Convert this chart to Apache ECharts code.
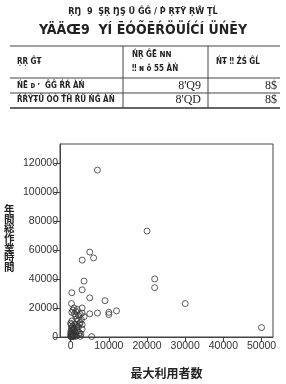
<!DOCTYPE html>
<html><head><meta charset="utf-8">
<script src="https://cdn.jsdelivr.net/npm/echarts@6/dist/echarts.min.js"></script>
<style>html,body{margin:0;padding:0;background:#fff}#c{width:286px;height:384px}</style>
</head><body><div id="c"></div>
<script>
// Data: max users (x) vs annual total work hours (y)
const maxUsers = [7000,20000,5000,3000,6000,22000,22000,3500,3000,300,5000,9000,30000,200,50000,12000,10000,10000,7000,5000,3000,3000,3500,3000,5500,
  900,300,1000,1300,1600,2000,2500,2800,2300,0,100,200,600,1000,2300,2000,1500,500,800,1200,300,100,0,200,400,700,1500,2500,50,600,1000,1800,300,2700,1400,2000,600,100,300,1100,1700,900,1300,200,0,400,2100,3000,2500,1700];
const workHours = [115000,73000,58500,53000,54500,40000,34000,38500,32500,30500,27000,25000,23000,23000,6500,18000,17000,15500,16500,16000,20000,16500,14000,5500,300,
  20000,17000,16000,14500,12500,11500,10000,12000,9000,9500,8500,6000,4500,3500,3000,7000,6500,7500,5500,2500,2000,1000,500,3000,1500,800,1000,500,4000,200,6000,4500,11000,2000,17500,15000,18500,300,4800,9000,8000,1200,400,100,2500,6500,1800,8500,15500,19000];
const xTicks = [0,10000,20000,30000,40000,50000];
const yTicks = [0,20000,40000,60000,80000,100000,120000];
const yAxisTitle = '年間総作業時間';
const xAxisTitle = '最大利用者数';
const titleLine1 = 'ŖŊ  9  ŞŖ ŊŞ Ű ĜĜ / Ṗ ŖŦŸ ŖŴ ŢĹ';
const titleLine2 = 'YÄÄŒ9  YÍ ĒÓÕĒŔÖÜĺĆÍ ÜŃĒY';
const colHeaders = ['ŖŖ ĜŦ', 'ŃŖ ĜĒ ꓠꓠ', '‼ ɴ ô 55 ÀŃ', 'ŃŦ ‼ ŹŚ ĜĹ'];
const rowLabels = ['ŃĒ ᴅ ʳ  ĜĜ ŔŔ ÀŃ', 'ŔŔŶŦŨ ÒÒ ŤĤ ŔŨ ŃĜ ÀŃ'];
const col2Vals = ["8'Q9", "8'QD"];
const col3Vals = ['8$', '8$'];

const pts = maxUsers.map((x, i) => [x, workHours[i]]);
const chart = echarts.init(document.getElementById('c'), null, {renderer: 'canvas'});
const tf = '"Liberation Sans Narrow","DejaVu Sans Condensed","Liberation Sans",sans-serif';
const lineStyle = {stroke: '#444', lineWidth: 1};
const g = [];
g.push({type:'text', left:'center', top:7, style:{text:titleLine1, font:'bold 9px '+tf, fill:'#222'}});
g.push({type:'text', left:'center', top:23, style:{text:titleLine2, font:'bold 14px '+tf, fill:'#222'}});
g.push({type:'line', shape:{x1:10,y1:46,x2:280,y2:46}, style:lineStyle});
g.push({type:'line', shape:{x1:10,y1:78,x2:280,y2:78}, style:lineStyle});
g.push({type:'line', shape:{x1:10,y1:93,x2:280,y2:93}, style:lineStyle});
g.push({type:'line', shape:{x1:10,y1:108,x2:280,y2:108}, style:{stroke:'#333', lineWidth:1.5}});
g.push({type:'line', shape:{x1:123,y1:46,x2:123,y2:108}, style:lineStyle});
g.push({type:'line', shape:{x1:208,y1:46,x2:208,y2:108}, style:lineStyle});
g.push({type:'text', x:17, y:62, style:{text:colHeaders[0], font:'bold 8px '+tf, fill:'#222', textVerticalAlign:'middle'}});
g.push({type:'text', x:132, y:55, style:{text:colHeaders[1], font:'bold 8px '+tf, fill:'#222', textVerticalAlign:'middle'}});
g.push({type:'text', x:132, y:69, style:{text:colHeaders[2], font:'bold 8px '+tf, fill:'#222', textVerticalAlign:'middle'}});
g.push({type:'text', x:216, y:62, style:{text:colHeaders[3], font:'bold 8px '+tf, fill:'#222', textVerticalAlign:'middle'}});
[86, 100].forEach((y, i) => {
  g.push({type:'text', x:17, y:y, style:{text:rowLabels[i], font:'bold 8px '+tf, fill:'#222', textVerticalAlign:'middle'}});
  g.push({type:'text', x:201, y:y, style:{text:col2Vals[i], font:'12px "Liberation Serif",serif', fill:'#222', textAlign:'right', textVerticalAlign:'middle'}});
  g.push({type:'text', x:277, y:y, style:{text:col3Vals[i], font:'12px "Liberation Serif",serif', fill:'#222', textAlign:'right', textVerticalAlign:'middle'}});
});
Array.from(yAxisTitle).forEach((ch, i) => {
  g.push({type:'text', x:4, y:204 + i * 9.6, style:{text:ch, fontSize:10.5, fontWeight:'bold', fontFamily:'"Noto Sans CJK JP",sans-serif', fill:'#222'}});
});

const labelStyle = {color:'#333', fontSize:10.5, fontFamily:'"Liberation Sans",Arial,sans-serif', formatter: v => String(v)};
chart.setOption({
  animation:false,
  grid:{left:60, right:13, top:144, bottom:39, show:true, borderColor:'#444', borderWidth:1},
  xAxis:{type:'value', min:-2800, max:53000, splitLine:{show:false},
    axisLine:{show:true, onZero:false, lineStyle:{color:'#444'}},
    axisTick:{show:true, length:5, customValues:xTicks, lineStyle:{color:'#444'}},
    axisLabel:Object.assign({margin:4, customValues:xTicks}, labelStyle),
    name:xAxisTitle, nameLocation:'middle', nameGap:30,
    nameTextStyle:{fontSize:12, fontWeight:'bold', color:'#222', fontFamily:'"Noto Sans CJK JP",sans-serif'}},
  yAxis:{type:'value', min:0, max:133000, splitLine:{show:false},
    axisLine:{show:true, onZero:false, lineStyle:{color:'#444'}},
    axisTick:{show:true, length:6, customValues:yTicks, lineStyle:{color:'#444'}},
    axisLabel:Object.assign({margin:2, customValues:yTicks}, labelStyle)},
  series:[{type:'scatter', data:pts, symbol:'circle', symbolSize:6, clip:false,
    itemStyle:{color:'rgba(0,0,0,0)', borderColor:'#333', borderWidth:1}}],
  graphic:g
});
</script></body></html>
